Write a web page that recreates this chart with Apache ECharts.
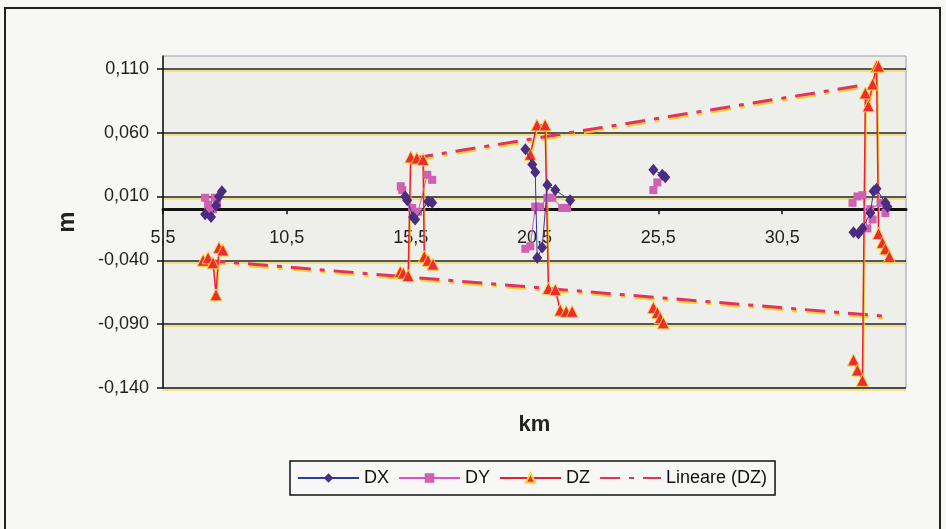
<!DOCTYPE html>
<html><head><meta charset="utf-8">
<script src="https://cdn.jsdelivr.net/npm/echarts@6/dist/echarts.min.js"></script>
<style>html,body{margin:0;padding:0;background:#F7F7F5;}#c{width:946px;height:529px;}</style>
</head><body><div id="c"></div>
<script>
// Tick labels
const xTicks = [5.5, 10.5, 15.5, 20.5, 25.5, 30.5];
const yTicks = [-0.14, -0.09, -0.04, 0.01, 0.06, 0.11];

// DX series (null = gap between survey groups)
const dxX = [7.20, 7.44, 7.64, 7.76, 7.88, null,
  15.28, 15.36, 15.60, 15.68, 16.21, 16.37, null,
  20.13, 20.41, 20.53, 20.61, 20.81, 21.02, 21.34, 21.94, null,
  25.30, 25.66, 25.78, null,
  33.38, 33.58, 33.74, 34.06, 34.19, 34.31, 34.67, 34.75];
const dxY = [-0.004, -0.006, 0.003, 0.010, 0.014, null,
  0.010, 0.007, -0.006, -0.008, 0.006, 0.005, null,
  0.047, 0.035, 0.029, -0.038, -0.030, 0.019, 0.015, 0.007, null,
  0.031, 0.027, 0.025, null,
  -0.018, -0.019, -0.015, -0.003, 0.014, 0.016, 0.005, 0.002];

// DY series
const dyX = [7.20, 7.32, 7.40, 7.52, 7.68, 7.60, null,
  15.10, 15.16, 15.56, 15.80, 16.17, 16.37, null,
  20.13, 20.33, 20.53, 20.73, 21.02, 21.22, 21.62, 21.82, null,
  25.30, 25.46, null,
  33.34, 33.54, 33.74, 33.94, 34.15, 34.06, 34.47, 34.67];
const dyY = [0.009, 0.0035, -0.001, 0.000, 0.004, 0.009, null,
  0.018, 0.015, 0.001, -0.002, 0.027, 0.023, null,
  -0.031, -0.029, 0.002, 0.002, 0.009, 0.009, 0.001, 0.001, null,
  0.015, 0.021, null,
  0.005, 0.010, 0.011, -0.015, -0.008, 0.000, 0.005, -0.003];

// DZ series
const dzX = [7.12, 7.32, 7.52, 7.64, 7.76, 7.92, null,
  15.08, 15.20, 15.40, 15.50, 15.75, 16.00, 16.05, 16.20, 16.40, null,
  20.33, 20.60, 20.93, 21.06, 21.34, 21.54, 21.78, 22.02, null,
  25.30, 25.46, 25.58, 25.70, null,
  33.38, 33.54, 33.74, 33.86, 33.98, 34.15, 34.31, 34.39, 34.39, 34.55, 34.67, 34.83];
const dzY = [-0.040, -0.038, -0.042, -0.067, -0.030, -0.032, null,
  -0.049, -0.050, -0.052, 0.041, 0.040, 0.039, -0.037, -0.040, -0.043, null,
  0.043, 0.066, 0.066, -0.062, -0.063, -0.079, -0.080, -0.080, null,
  -0.077, -0.081, -0.085, -0.089, null,
  -0.118, -0.126, -0.134, 0.091, 0.081, 0.098, 0.112, 0.112, -0.019, -0.026, -0.031, -0.037];

// Linear trend (DZ): upper and lower segments
const trendX = [15.60, 33.86, null, 7.20, 34.80];
const trendY = [0.040, 0.0975, null, -0.040, -0.084];

function pairs(xs, ys) {
  return xs.map((x, i) => (x === null ? ['-', '-'] : [x, ys[i]]));
}
const FONT = 'Liberation Sans, Arial, sans-serif';
const GRID_TOP = 56, GRID_BOTTOM = 141, H = 529;
const Y_MIN = -0.14, Y_MAX = 0.12;
// place the x axis (line, ticks, labels) at y = 0
const plotH = H - GRID_TOP - GRID_BOTTOM;
const zeroOffset = -plotH * (0 - Y_MIN) / (Y_MAX - Y_MIN);

const chart = echarts.init(document.getElementById('c'), null, {renderer: 'canvas'});
const yShadow = {shadowColor: 'rgba(235,210,40,0.9)', shadowBlur: 0, shadowOffsetX: 1, shadowOffsetY: 2};

chart.setOption({
  backgroundColor: '#F7F7F5',
  animation: false,
  textStyle: {fontFamily: FONT},
  graphic: [{
    type: 'rect', shape: {x: 5, y: 8, width: 935, height: 540},
    style: {fill: 'none', stroke: '#222', lineWidth: 2}, silent: true, z: -1
  }],
  grid: {left: 163, right: 40, top: GRID_TOP, bottom: GRID_BOTTOM, containLabel: false, outerBoundsMode: 'none',
    show: true, backgroundColor: '#EEEEEB', borderColor: '#9a9ab0', borderWidth: 1},
  legend: {
    left: 290, top: 461,
    data: ['DX', 'DY', 'DZ', {name: 'Lineare (DZ)', itemStyle: {opacity: 0}}],
    borderColor: '#111', borderWidth: 1.5, padding: [8, 8, 8, 7],
    itemWidth: 61, itemHeight: 12, itemGap: 9,
    textStyle: {fontSize: 18, color: '#111', fontFamily: FONT}
  },
  xAxis: {
    type: 'value', min: 5.5, max: 35.5, position: 'bottom', offset: zeroOffset,
    name: 'km', nameLocation: 'middle', nameGap: 205,
    nameTextStyle: {fontSize: 22, fontWeight: 'bold', color: '#222', fontFamily: FONT},
    axisLine: {onZero: false, lineStyle: {color: '#111', width: 3}},
    axisTick: {show: true, length: 5, customValues: xTicks, lineStyle: {color: '#111', width: 1.5}},
    axisLabel: {customValues: xTicks, margin: 20, fontSize: 18, color: '#222', fontFamily: FONT,
      formatter: v => v.toFixed(1).replace('.', ',')},
    splitLine: {show: false}
  },
  yAxis: {
    type: 'value', min: Y_MIN, max: Y_MAX,
    name: 'm', nameLocation: 'middle', nameGap: 84,
    nameTextStyle: {fontSize: 24, fontWeight: 'bold', color: '#222', fontFamily: FONT},
    axisLine: {show: true, onZero: false, lineStyle: {color: '#111', width: 1.5}},
    axisTick: {show: true, length: 6, customValues: yTicks, lineStyle: {color: '#111', width: 1.5}},
    axisLabel: {customValues: yTicks, margin: 14, fontSize: 18, color: '#222', fontFamily: FONT,
      formatter: v => v.toFixed(3).replace('.', ',')},
    splitLine: {show: true, lineStyle: {color: '#222', width: 1.5, shadowColor: 'rgba(235,215,60,0.8)', shadowBlur: 0, shadowOffsetY: 2}}
  },
  series: [
    {
      name: 'Lineare (DZ)', type: 'line', data: pairs(trendX, trendY), showSymbol: false, symbol: 'none',
      connectNulls: false, z: 3,
      itemStyle: {color: '#E8305A'},
      lineStyle: Object.assign({color: '#E8305A', width: 3, type: [20, 9, 5, 9]}, yShadow)
    },
    {
      name: 'DZ', type: 'line', data: pairs(dzX, dzY), symbol: 'triangle', symbolSize: 12,
      connectNulls: false, z: 4,
      itemStyle: {color: '#F02A30', borderColor: '#F5D83A', borderWidth: 1},
      lineStyle: Object.assign({color: '#E8203A', width: 1.5}, yShadow)
    },
    {
      name: 'DY', type: 'line', data: pairs(dyX, dyY), symbol: 'rect', symbolSize: 8,
      connectNulls: false, z: 5,
      itemStyle: {color: '#D060B0'},
      lineStyle: {color: '#E050C0', width: 1}
    },
    {
      name: 'DX', type: 'line', data: pairs(dxX, dxY), symbol: 'diamond', symbolSize: [10, 12],
      connectNulls: false, z: 6,
      itemStyle: {color: '#4A2C80'},
      lineStyle: {color: '#2C3C9C', width: 1}
    }
  ]
});
</script></body></html>
